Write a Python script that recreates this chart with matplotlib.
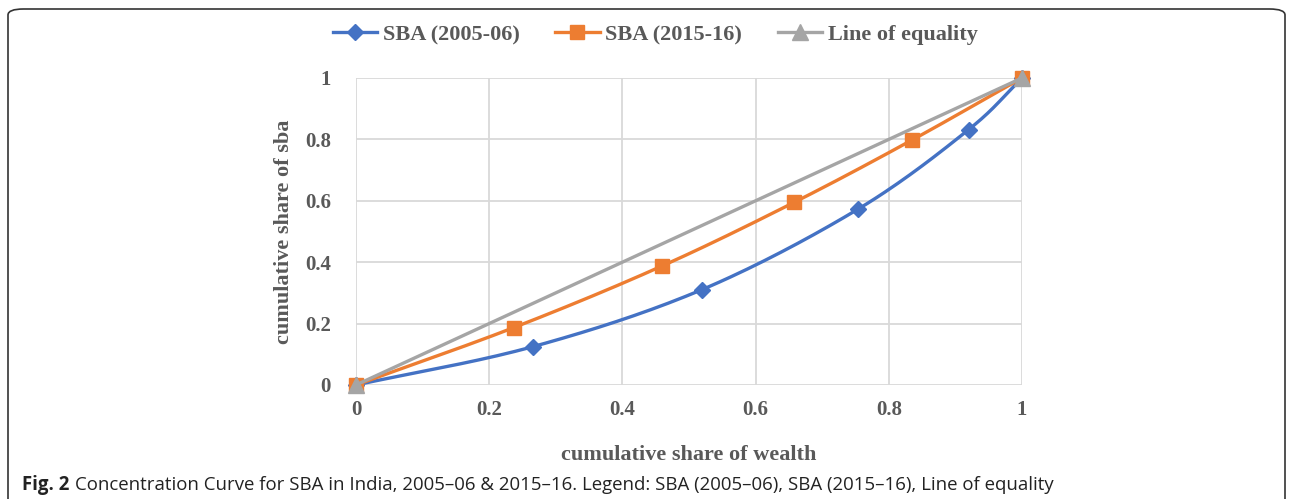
import numpy as np
import matplotlib
matplotlib.use("Agg")
import matplotlib.pyplot as plt
from matplotlib.patches import FancyBboxPatch

# values
wealth_2005 = [0, 0.266, 0.52, 0.754, 0.92, 1.0]
sba_2005 = [0, 0.125, 0.311, 0.573, 0.832, 1.0]
wealth_2015 = [0, 0.237, 0.459, 0.658, 0.835, 1.0]
sba_2015 = [0, 0.187, 0.387, 0.595, 0.798, 1.0]
equality = [0, 1.0]
ticks = [0, 0.2, 0.4, 0.6, 0.8, 1]
tick_labels = ["0", "0.2", "0.4", "0.6", "0.8", "1"]
series_names = ["SBA (2005-06)", "SBA (2015-16)", "Line of equality"]

BLUE = "#4472C4"
ORANGE = "#ED7D31"
GREY = "#A5A5A5"
TEXT = "#595959"


def smooth(x, y, n=30):
    """Catmull-Rom curve through the points, like Excel's smoothed line"""
    x = np.asarray(x, float)
    y = np.asarray(y, float)
    px = np.concatenate([[2 * x[0] - x[1]], x, [2 * x[-1] - x[-2]]])
    py = np.concatenate([[2 * y[0] - y[1]], y, [2 * y[-1] - y[-2]]])
    t = np.linspace(0, 1, n)
    xs, ys = [], []
    for i in range(1, len(px) - 2):
        for p, out in ((px, xs), (py, ys)):
            p0, p1, p2, p3 = p[i - 1], p[i], p[i + 1], p[i + 2]
            out.append(0.5 * (2 * p1 + (-p0 + p2) * t
                              + (2 * p0 - 5 * p1 + 4 * p2 - p3) * t ** 2
                              + (-p0 + 3 * p1 - 3 * p2 + p3) * t ** 3))
    return np.concatenate(xs), np.concatenate(ys)


plt.rcParams["font.family"] = ["Liberation Serif", "DejaVu Serif"]

fig = plt.figure(figsize=(12.92, 4.99), dpi=100)
ax = fig.add_axes([0.2755, 0.2285, 0.5155, 0.6152])

# lines (smoothed) + markers at the data points
sx, sy = smooth(wealth_2005, sba_2005)
ax.plot(sx, sy, color=BLUE, lw=2.4, zorder=3, clip_on=False)
ax.plot(wealth_2005, sba_2005, ls="none", marker="D", ms=8, color=BLUE,
        zorder=4, clip_on=False)
sx, sy = smooth(wealth_2015, sba_2015)
ax.plot(sx, sy, color=ORANGE, lw=2.4, zorder=3, clip_on=False)
ax.plot(wealth_2015, sba_2015, ls="none", marker="s", ms=10, color=ORANGE,
        zorder=4, clip_on=False)
ax.plot(equality, equality, color=GREY, lw=2.4, marker="^", ms=11,
        zorder=5, clip_on=False)

ax.set_xlim(0, 1)
ax.set_ylim(0, 1)
ax.set_xticks(ticks)
ax.set_xticklabels(tick_labels)
ax.set_yticks(ticks)
ax.set_yticklabels(tick_labels)
ax.grid(True, color="#D9D9D9", lw=1.3, zorder=0)
ax.set_axisbelow(True)
for s in ax.spines.values():
    s.set_visible(False)
ax.tick_params(length=0, labelsize=15, labelcolor=TEXT)
ax.tick_params(axis="y", pad=18)
ax.tick_params(axis="x", pad=11)
for lab in ax.get_xticklabels() + ax.get_yticklabels():
    lab.set_fontweight("bold")

ax.set_xlabel("cumulative share of wealth", fontsize=16, fontweight="bold",
              color=TEXT, labelpad=18)
ax.set_ylabel("cumulative share of sba", fontsize=16, fontweight="bold",
              color=TEXT, labelpad=8)

# legend from proxy handles
h1, = ax.plot([], [], color=BLUE, lw=2.4, marker="D", ms=8)
h2, = ax.plot([], [], color=ORANGE, lw=2.4, marker="s", ms=10)
h3, = ax.plot([], [], color=GREY, lw=2.4, marker="^", ms=11)
leg = fig.legend([h1, h2, h3], series_names, loc="center",
                 bbox_to_anchor=(0.507, 0.93), ncol=3, frameon=False,
                 handlelength=2.0, handletextpad=0.25, columnspacing=1.6,
                 prop={"family": "Liberation Serif", "weight": "bold", "size": 16})
for t in leg.get_texts():
    t.set_color(TEXT)

# rounded frame around the figure
top = 1 - 9 / 499
box = FancyBboxPatch((8 / 1292, -0.05), 1277 / 1292, top + 0.05,
                     boxstyle="round,pad=0,rounding_size=0.012",
                     transform=fig.transFigure, fill=False,
                     ec="#333333", lw=1.2, clip_on=False)
fig.patches.append(box)

# caption
cap_y = 1 - 485 / 499
t1 = fig.text(22 / 1292, cap_y, "Fig. 2", fontfamily="Open Sans",
              fontweight="bold", fontsize=13.4, color="#222222", va="center")
fig.canvas.draw()
bb = t1.get_window_extent()
fig.text(bb.x1 / fig.bbox.width + 0.004, cap_y,
         "Concentration Curve for SBA in India, 2005\u201306 & 2015\u201316. "
         "Legend: SBA (2005\u201306), SBA (2015\u201316), Line of equality",
         fontfamily="Open Sans", fontsize=13.4, color="#222222", va="center")

fig.savefig("out.png", dpi=100)
